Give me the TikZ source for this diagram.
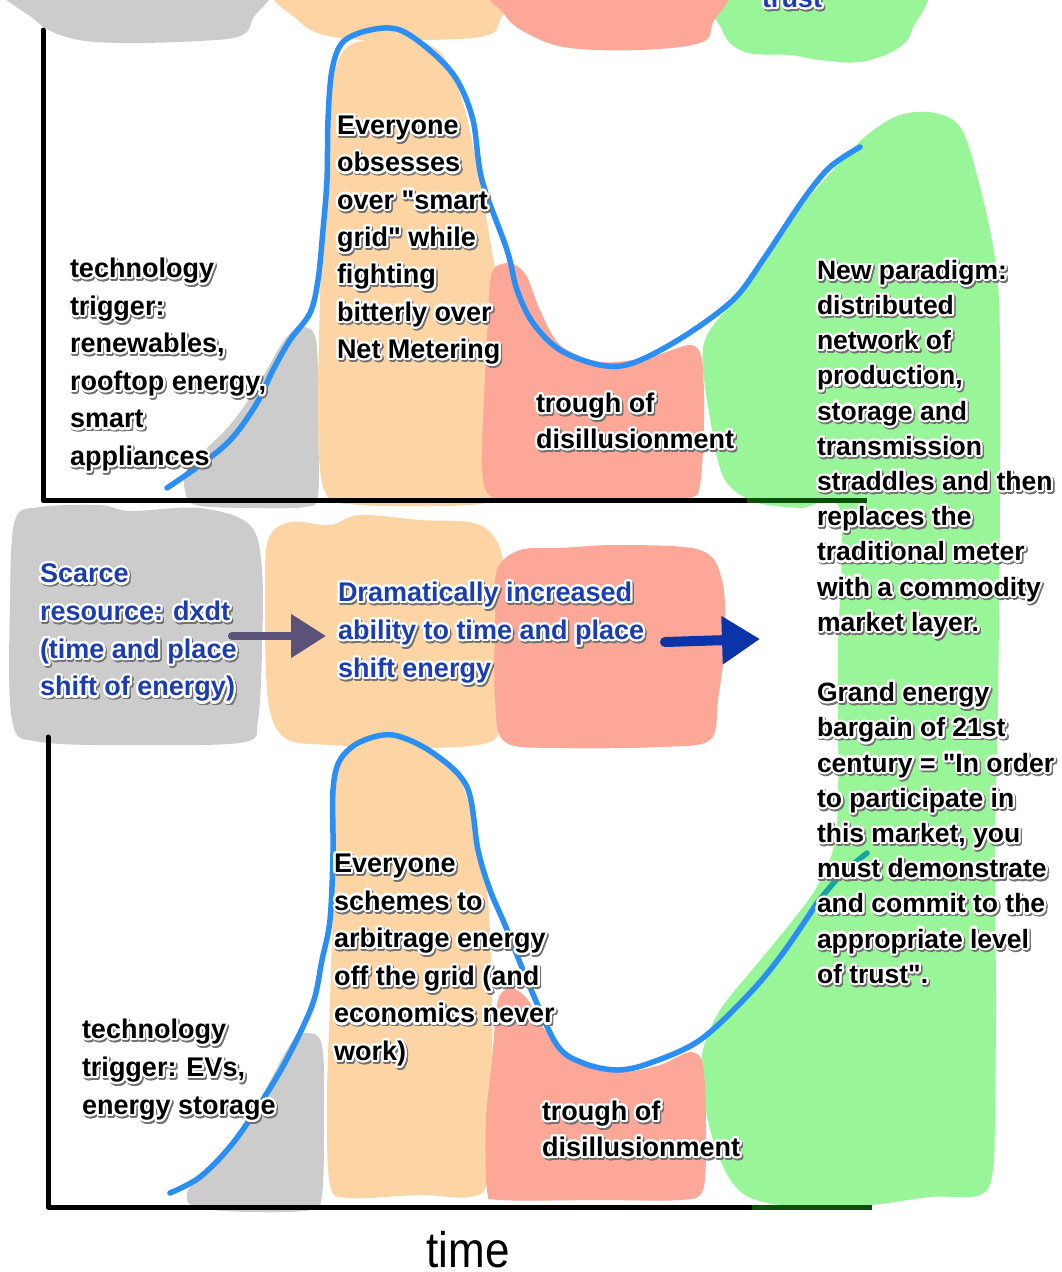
\documentclass[tikz,border=0pt]{standalone}
\usepackage{fontspec}
\setmainfont{Liberation Sans}
\newfontfamily\timefont[FakeStretch=0.88]{Liberation Sans}
\usepackage{contour}
\contourlength{2.2pt}
\contournumber{20}
\usetikzlibrary{arrows.meta}

\definecolor{blobgray}{HTML}{CCCCCC}
\definecolor{blobpeach}{HTML}{FDD4A3}
\definecolor{blobsalmon}{HTML}{FCA797}
\definecolor{blobgreen}{HTML}{98F598}
\definecolor{hypeblue}{HTML}{2A8EF2}
\definecolor{hypeteal}{HTML}{1AA3A3}
\definecolor{inkblue}{HTML}{1B3DAF}
\definecolor{arrowgrey}{HTML}{5A5278}
\definecolor{arrowblue}{HTML}{0A34A8}
\definecolor{axisgreen}{HTML}{0B4F0B}

% one line of haloed text: soft shadow, white rim, then the ink
\newcommand\gl[1]{\leavevmode\rlap{\kern1.4pt\raisebox{-1.8pt}{\contour{black!55}{\textcolor{black!55}{#1}}}}\contour{white}{#1}}
% straight double quote, set as a glyph so the font mapping leaves it alone
\newcommand\dq{\XeTeXglyph\numexpr\XeTeXcharglyph"22\relax}

\begin{document}
\begin{tikzpicture}[x=1pt,y=-1pt,
  hype/.style={draw=hypeblue, line width=5.5pt, line cap=round, line join=round},
  axisline/.style={line width=5pt, line cap=round, line join=round},
  note/.style={anchor=north west, inner sep=0pt, outer sep=0pt, align=left, text=black},
  bluenote/.style={note, text=inkblue},
  bigarrow/.style={line width=#1, line cap=round}
]
\path[use as bounding box] (0,0) rectangle (1061,1272);
\clip (0,0) rectangle (1061,1272);

% ---------- green paint: right column with its two lobes ----------
\fill[blobgreen] plot[smooth cycle, tension=0.55] coordinates {
  (835,168) (867,135) (900,115) (935,113) (962,130) (982,195) (996,265)
  (1000,340) (1000,500) (998,700) (995,850) (996,1000) (995,1100)
  (993,1170) (980,1195) (930,1197) (870,1205) (800,1207) (745,1195)
  (718,1155) (702,1090) (703,1050) (720,1010) (752,970) (785,930)
  (815,890) (833,850) (838,800) (838,650) (840,510) (800,508) (755,502)
  (725,480) (712,430) (703,348) (730,305) (765,262) (803,205)};
\fill[blobgreen] plot[smooth cycle, tension=0.6] coordinates {
  (718,-20) (915,-20) (912,30) (895,50) (860,62) (820,60) (790,55) (745,52) (722,30)};

% ---------- strip of paint cut by the top edge ----------
\fill[blobgray] plot[smooth cycle, tension=0.6] coordinates {
  (10,-20) (255,-20) (252,20) (240,36) (200,41) (120,43) (70,38) (35,20)};
\fill[blobpeach] plot[smooth cycle, tension=0.6] coordinates {
  (280,-20) (505,-20) (500,20) (485,36) (420,40) (340,38) (300,22)};
\fill[blobsalmon] plot[smooth cycle, tension=0.6] coordinates {
  (498,-20) (715,-20) (712,25) (700,43) (640,50) (570,48) (530,35) (505,15)};

% ---------- upper chart paint ----------
\fill[blobgray] plot[smooth cycle, tension=0.55] coordinates {
  (300,327) (316,340) (318,420) (318,495) (305,507) (250,508) (195,505)
  (185,490) (188,468) (230,425) (258,385) (283,342)};
\fill[blobpeach] plot[smooth cycle, tension=0.55] coordinates {
  (335,70) (352,44) (400,38) (440,52) (462,100) (478,170) (490,240)
  (500,300) (505,380) (503,460) (495,495) (470,505) (360,505) (325,492)
  (318,420) (320,300) (323,200) (328,120)};
\fill[blobsalmon] plot[smooth cycle, tension=0.5] coordinates {
  (492,272) (510,263) (526,275) (540,310) (560,345) (600,362) (650,357)
  (690,345) (702,360) (704,420) (700,485) (688,498) (620,500) (540,499)
  (492,497) (482,470) (484,400) (488,320)};

% ---------- middle row paint ----------
\fill[blobgray] plot[smooth cycle, tension=0.55] coordinates {
  (15,520) (40,507) (100,505) (130,511) (200,508) (250,525) (262,570)
  (262,650) (258,720) (245,742) (150,745) (40,742) (12,720) (10,600)};
\fill[blobpeach] plot[smooth cycle, tension=0.55] coordinates {
  (268,540) (290,522) (330,525) (360,515) (420,520) (480,525) (503,560)
  (505,650) (500,720) (490,742) (430,748) (330,745) (285,738) (268,700)
  (265,600)};
\fill[blobsalmon] plot[smooth cycle, tension=0.55] coordinates {
  (497,570) (520,550) (560,548) (620,545) (700,550) (722,580) (725,640)
  (718,700) (710,740) (660,747) (560,748) (505,742) (495,700) (495,620)};

% ---------- lower chart paint ----------
\fill[blobgray] plot[smooth cycle, tension=0.55] coordinates {
  (305,1033) (322,1045) (324,1120) (322,1195) (310,1210) (250,1212)
  (195,1207) (188,1190) (213,1163) (247,1127) (267,1087) (290,1045)};
\fill[blobpeach] plot[smooth cycle, tension=0.55] coordinates {
  (335,770) (350,750) (395,742) (430,752) (460,780) (478,840) (488,900)
  (492,1000) (492,1100) (488,1180) (470,1197) (420,1195) (350,1198)
  (330,1185) (327,1100) (330,1000) (333,900) (333,820)};
\fill[blobsalmon] plot[smooth cycle, tension=0.5] coordinates {
  (498,1000) (512,988) (528,1000) (545,1030) (575,1060) (620,1072)
  (660,1065) (690,1052) (703,1065) (706,1130) (703,1190) (680,1200)
  (600,1200) (500,1200) (487,1190) (486,1120) (492,1060)};

% ---------- axes ----------
\draw[axisline] (43,30) -- (43,500) -- (747,500);
\draw[axisline, axisgreen, line cap=butt] (747,500) -- (867,500);
\draw[axisline] (48,737) -- (48,1207) -- (752,1207);
\draw[axisline, axisgreen, line cap=butt] (752,1207) -- (872,1207);

% ---------- hype curves ----------
\draw[hype] plot[smooth, tension=0.55] coordinates {
  (167,488) (207,460) (233,437) (257,403) (273,370) (290,340) (310,313)
  (318,280) (323,230) (327,180) (328,120) (332,70) (343,42) (370,30)
  (400,30) (433,53) (457,80) (473,120) (482,180) (507,250) (517,290)
  (533,323) (560,350) (600,365) (633,363) (683,337) (733,300) (763,260)
  (803,200) (830,167) (860,147)};
\draw[hype] plot[smooth, tension=0.55] coordinates {
  (170,1193) (200,1177) (233,1143) (267,1093) (290,1053) (313,1003)
  (322,960) (330,920) (333,853) (333,790) (340,760) (360,742) (393,735)
  (433,753) (467,787) (478,850) (490,890) (505,925) (530,987) (557,1045)
  (583,1063) (617,1070) (650,1063) (700,1040) (750,993) (783,953) (817,903)};
\draw[hype, draw=hypeteal] plot[smooth, tension=0.55] coordinates {
  (817,903) (840,876) (867,853)};

% ---------- arrows of the middle row ----------
\coordinate (a1tail) at (232,636);
\coordinate (a1tip) at (326,636);
\coordinate (a2tail) at (665,642);
\coordinate (a2tip) at (760,639);
\draw[bigarrow=8pt, arrowgrey, -{Triangle[length=35pt,width=42pt]}] (a1tail) -- (a1tip);
\draw[bigarrow=10pt, arrowblue, -{Triangle[length=38pt,width=46pt]}] (a2tail) -- (a2tip);

% ---------- text ----------
\node[bluenote, font=\fontsize{27}{37}\selectfont\bfseries] (trust) at (762,-10) {\gl{trust}};

\node[note, font=\fontsize{27}{37.6}\selectfont\bfseries] (trigA) at (70,258)
  {\gl{technology}\\\gl{trigger:}\\\gl{renewables,}\\\gl{rooftop energy,}\\\gl{smart}\\\gl{appliances}};
\node[note, font=\fontsize{27}{37.3}\selectfont\bfseries] (peakA) at (337,116)
  {\gl{Everyone}\\\gl{obsesses}\\\gl{over \dq smart}\\\gl{grid\dq\ while}\\\gl{fighting}\\\gl{bitterly over}\\\gl{Net Metering}};
\node[note, font=\fontsize{27}{36}\selectfont\bfseries] (troughA) at (536,393)
  {\gl{trough of}\\\gl{disillusionment}};
\node[note, font=\fontsize{26.5}{35.2}\selectfont\bfseries] (paradigm) at (817,260)
  {\gl{New paradigm:}\\\gl{distributed}\\\gl{network of}\\\gl{production,}\\\gl{storage and}\\\gl{transmission}\\\gl{straddles and then}\\\gl{replaces the}\\\gl{traditional meter}\\\gl{with a commodity}\\\gl{market layer.}\\[35.2pt]\gl{Grand energy}\\\gl{bargain of 21st}\\\gl{century = \dq In order}\\\gl{to participate in}\\\gl{this market, you}\\\gl{must demonstrate}\\\gl{and commit to the}\\\gl{appropriate level}\\\gl{of trust\dq.}};

\node[bluenote, font=\fontsize{27}{37.7}\selectfont\bfseries] (scarce) at (40,564)
  {\gl{Scarce}\\\gl{resource: dxdt}\\\gl{(time and place}\\\gl{shift of energy)}};
\node[bluenote, font=\fontsize{27}{38}\selectfont\bfseries] (shift) at (338,582)
  {\gl{Dramatically increased}\\\gl{ability to time and place}\\\gl{shift energy}};

\node[note, font=\fontsize{27}{38}\selectfont\bfseries] (trigB) at (82,1019)
  {\gl{technology}\\\gl{trigger: EVs,}\\\gl{energy storage}};
\node[note, font=\fontsize{27}{37.6}\selectfont\bfseries] (peakB) at (334,854)
  {\gl{Everyone}\\\gl{schemes to}\\\gl{arbitrage energy}\\\gl{off the grid (and}\\\gl{economics never}\\\gl{work)}};
\node[note, font=\fontsize{27}{36}\selectfont\bfseries] (troughB) at (542,1101)
  {\gl{trough of}\\\gl{disillusionment}};

\node[anchor=base, inner sep=0pt, font=\timefont\fontsize{50}{50}\selectfont] (timelabel) at (468,1267) {time};
\end{tikzpicture}
\end{document}
